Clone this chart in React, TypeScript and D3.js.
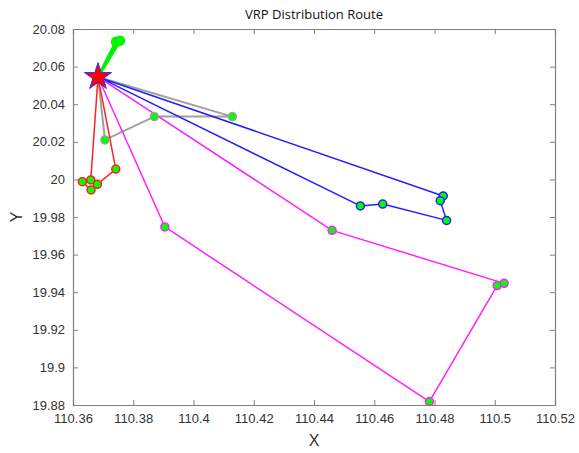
import { useEffect, useRef } from 'react';
import * as d3 from 'd3';

// depot and routes (x = longitude, y = latitude)
const depot: [number, number] = [110.3683, 20.0545];

const greenRoute: [number, number][] = [
  [110.3743, 20.0732],
  [110.3756, 20.0738],
];
const grayRoute: [number, number][] = [
  [110.3706, 20.021],
  [110.387, 20.0334],
  [110.4129, 20.0334],
];
const redRoute: [number, number][] = [
  [110.3659, 19.9997],
  [110.3631, 19.9988],
  [110.366, 19.9944],
  [110.3681, 19.9974],
  [110.3742, 20.0055],
];
const blueRoute: [number, number][] = [
  [110.4829, 19.9912],
  [110.4819, 19.9887],
  [110.484, 19.9782],
  [110.4628, 19.9869],
  [110.4554, 19.9859],
];
const magentaRoute: [number, number][] = [
  [110.3905, 19.9747],
  [110.4783, 19.8818],
  [110.5008, 19.9435],
  [110.5031, 19.9447],
  [110.446, 19.9729],
];

const xTicks = [110.36, 110.38, 110.4, 110.42, 110.44, 110.46, 110.48, 110.5, 110.52];
const yTicks = [19.88, 19.9, 19.92, 19.94, 19.96, 19.98, 20, 20.02, 20.04, 20.06, 20.08];

const routes = [
  { pts: grayRoute, color: '#a0a0a0', width: 2 },
  { pts: redRoute, color: '#ff2020', width: 1.5 },
  { pts: blueRoute, color: '#2020ff', width: 1.5 },
  { pts: magentaRoute, color: '#ff20ff', width: 1.5 },
  { pts: greenRoute, color: '#00f000', width: 3 },
];

export default function App() {
  const ref = useRef<SVGSVGElement>(null);

  useEffect(() => {
    if (!ref.current) return;
    const svg = d3.select(ref.current);
    svg.selectAll('*').remove();

    const W = 579, H = 453;
    const m = { top: 29, right: 24, bottom: 48, left: 73 };
    const iw = W - m.left - m.right;
    const ih = H - m.top - m.bottom;

    const x = d3.scaleLinear().domain([110.36, 110.52]).range([0, iw]);
    const y = d3.scaleLinear().domain([19.88, 20.08]).range([ih, 0]);

    const g = svg.append('g').attr('transform', `translate(${m.left},${m.top})`);
    const font = 'Liberation Sans, Arial, sans-serif';
    const axisColor = '#808080';
    const textColor = '#333';

    g.append('rect').attr('width', iw).attr('height', ih).attr('fill', '#fff');

    // axes
    const bottom = g.append('g').attr('transform', `translate(0,${ih})`)
      .call(d3.axisBottom(x).tickValues(xTicks).tickSize(-5).tickPadding(9).tickFormat(d => String(+d)));
    const left = g.append('g')
      .call(d3.axisLeft(y).tickValues(yTicks).tickSize(-5).tickPadding(8).tickFormat(d => String(+d)));
    g.append('g').call(d3.axisTop(x).tickValues(xTicks).tickSize(-5).tickFormat(() => ''));
    g.append('g').attr('transform', `translate(${iw},0)`)
      .call(d3.axisRight(y).tickValues(yTicks).tickSize(-5).tickFormat(() => ''));

    g.selectAll('.domain').attr('stroke', axisColor).attr('stroke-width', 1.2);
    g.selectAll('.tick line').attr('stroke', axisColor);
    [bottom, left].forEach(a => a.selectAll('text')
      .attr('fill', textColor).style('font-family', font).style('font-size', '13px'));

    // routes: depot -> stops -> depot
    const line = d3.line<[number, number]>().x(d => x(d[0])).y(d => y(d[1]));
    routes.forEach(r => {
      g.append('path')
        .datum([depot, ...r.pts, depot])
        .attr('fill', 'none')
        .attr('stroke', r.color)
        .attr('stroke-width', r.width)
        .attr('stroke-linejoin', 'round')
        .attr('d', line);
    });
    routes.forEach(r => {
      g.selectAll(null)
        .data(r.pts)
        .enter()
        .append('circle')
        .attr('cx', d => x(d[0]))
        .attr('cy', d => y(d[1]))
        .attr('r', r.pts === greenRoute ? 4.5 : 4)
        .attr('fill', '#00ff00')
        .attr('stroke', r.color)
        .attr('stroke-width', 1.5);
    });

    // depot star
    g.append('path')
      .attr('d', d3.symbol().type(d3.symbolStar).size(230)())
      .attr('transform', `translate(${x(depot[0])},${y(depot[1])})`)
      .attr('fill', '#ff0000')
      .attr('stroke', '#3030ff')
      .attr('stroke-width', 1);

    // labels
    svg.append('text')
      .attr('x', m.left + iw / 2).attr('y', 19)
      .attr('text-anchor', 'middle')
      .style('font-family', 'Open Sans, sans-serif').style('font-size', '13px')
      .attr('fill', '#111')
      .text('VRP Distribution Route');
    svg.append('text')
      .attr('x', m.left + iw / 2).attr('y', 446)
      .attr('text-anchor', 'middle')
      .style('font-family', font).style('font-size', '16px')
      .attr('fill', textColor)
      .text('X');
    svg.append('text')
      .attr('transform', `translate(22,${m.top + ih / 2}) rotate(-90)`)
      .attr('text-anchor', 'middle')
      .style('font-family', font).style('font-size', '16px')
      .attr('fill', textColor)
      .text('Y');
  }, []);

  return (
    <svg ref={ref} width={579} height={453}
      style={{ position: 'absolute', left: 0, top: 0, background: '#fff' }} />
  );
}
